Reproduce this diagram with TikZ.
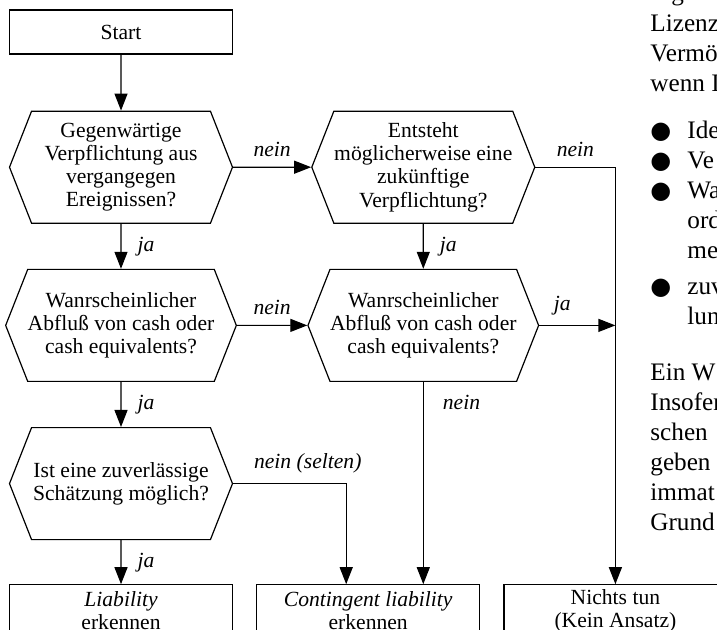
\documentclass[tikz,border=0pt]{standalone}
\usepackage{fontspec}
\setmainfont{Liberation Serif}
\newfontfamily\bulletfont{DejaVu Sans}
\usetikzlibrary{arrows.meta,positioning,shapes.symbols}
\newcommand{\pagebullet}{\makebox[18.5pt][l]{\bulletfont\fontsize{12}{15}\selectfont ●}}

\begin{document}
\begin{tikzpicture}[
  x=0.5pt,y=-0.5pt,
  node distance=22.5pt and 39pt,
  chart/.style={font=\fontsize{10.8}{11.6}\selectfont},
  box/.style={chart,draw,line width=0.6pt,minimum width=111.5pt,
    minimum height=22pt,align=center,inner sep=0pt},
  endbox/.style={box,minimum height=26pt},
  hexbox/.style={chart,signal,signal to=west and east,signal pointer angle=137,
    draw,line width=0.6pt,minimum width=111.5pt,minimum height=56pt,
    align=center,inner sep=0pt},
  lbl/.style={chart,font=\itshape\fontsize{10.8}{11.6}\selectfont,inner sep=5pt},
  arrow/.style={-{Triangle[length=8.5pt,width=6.5pt]},line width=0.6pt},
  pagetext/.style={font=\fontsize{12.6}{15}\selectfont,align=left,inner sep=0pt,
    anchor=base west}
]
\useasboundingbox (0,0) rectangle (717,630);

% flowchart
\node[box] (start) at (121,32) {Start};
\node[hexbox,below=28pt of start] (past) {Gegenwärtige\\Verpflichtung aus\\vergangegen\\Ereignissen?};
\node[hexbox,right=of past] (future) {Entsteht\\möglicherweise eine\\zukünftige\\Verpflichtung?};
\node[hexbox,below=of past] (outflowa) {Wanrscheinlicher\\Abfluß von cash oder\\cash equivalents?};
\node[hexbox,below=of future] (outflowb) {Wanrscheinlicher\\Abfluß von cash oder\\cash equivalents?};
\node[hexbox,below=of outflowa] (estimate) {Ist eine zuverlässige\\Schätzung möglich?};
\node[endbox,below=22pt of estimate] (liab) {\textit{Liability}\\erkennen};
\node[endbox,right=11.5pt of liab] (contliab) {\textit{Contingent liability}\\erkennen};
\node[endbox,right=11.5pt of contliab] (nothing) {Nichts tun\\(Kein Ansatz)};
\coordinate (join) at (nothing.north |- outflowb.east);

\draw[arrow] (start) -- (past);
\draw[arrow] (past) -- node[lbl,above]{nein} (future);
\draw[arrow] (future.east) -| node[lbl,above,pos=0.25]{nein} (nothing.north);
\draw[arrow] (past) -- node[lbl,right,xshift=3pt]{ja} (outflowa);
\draw[arrow] (future) -- node[lbl,right,xshift=3pt]{ja} (outflowb);
\draw[arrow] (outflowa) -- node[lbl,above]{nein} (outflowb);
\draw[arrow] (outflowb.east) -- node[lbl,above,xshift=-7.5pt]{ja} (join);
\draw[arrow] (outflowb.south) -- node[lbl,right,pos=0.1,xshift=4.5pt]{nein} (outflowb.south |- contliab.north);
\draw[arrow] (outflowa) -- node[lbl,right,xshift=3pt]{ja} (estimate);
\draw[arrow] (estimate.east) -| node[lbl,above,pos=0.33]{nein (selten)} ([xshift=-11pt]contliab.north);
\draw[arrow] (estimate) -- node[lbl,right,xshift=3pt]{ja} (liab);

% text of the page beside it (anchored at the baseline of the last line)
\node[pagetext] (topline) at (671,1) {g};
\node[pagetext] (para) at (650,92) {Lizenz\\Vermö\\wenn I};
\node[pagetext] (items) at (650,325) {\pagebullet Ide\\
  \pagebullet Ve\\
  \pagebullet Wa\\
  \hspace*{18.5pt}ord\\
  \hspace*{18.5pt}me\\[3pt]
  \pagebullet zuv\\
  \hspace*{18.5pt}lun};
\node[pagetext] (parb) at (650,530) {Ein W\\Insofer\\schen\\geben\\immat\\Grund};
\end{tikzpicture}
\end{document}
